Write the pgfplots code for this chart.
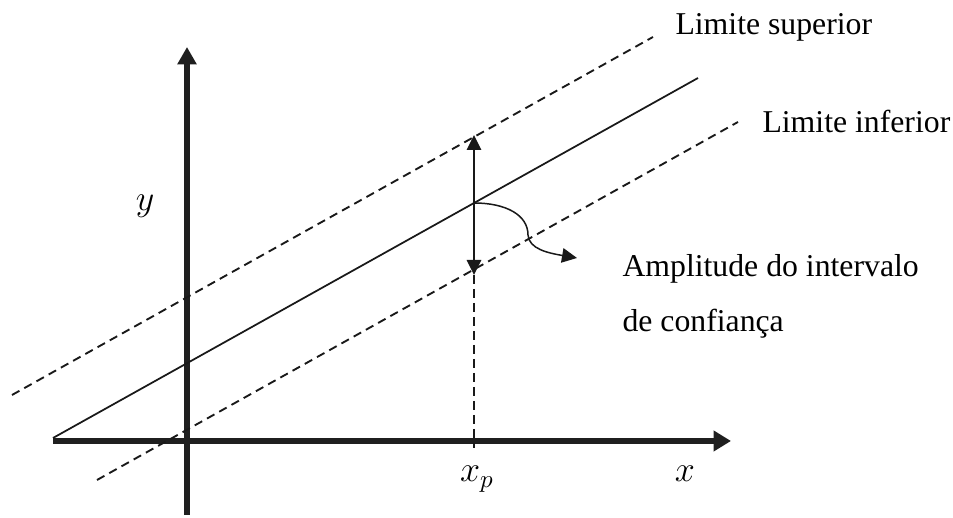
\documentclass[border=0pt]{standalone}
\usepackage{pgfplots}
\pgfplotsset{compat=1.18}
\usepackage{fontspec}
\setmainfont{Liberation Serif}
\usetikzlibrary{arrows.meta}
\begin{document}
\begin{tikzpicture}
\begin{axis}[
  scale only axis, width=381.2pt, height=206pt,
  xmin=0, xmax=953, ymin=0, ymax=515,
  hide axis, clip=false,
]
\addplot[draw=none, forget plot] coordinates {(0,0) (953,515)};
% axes
\addplot[line width=2.1pt, color=black!88, -{Triangle[length=7pt,width=8pt]}] coordinates {(53,74) (731,74)};
\addplot[line width=2.1pt, color=black!88, -{Triangle[length=7pt,width=7.4pt]}] coordinates {(187,0) (187,468)};
% regression line
\addplot[line width=0.7pt, black!90] coordinates {(53,77) (698,437)};
% confidence limits
\addplot[line width=0.75pt, black!90, dash pattern=on 3.4pt off 2.2pt] coordinates {(12,120) (653,478)};
\addplot[line width=0.75pt, black!90, dash pattern=on 3.4pt off 2.2pt] coordinates {(97,35) (738,393)};
% vertical amplitude arrow
\addplot[line width=0.6pt, black!90, {Triangle[length=6pt,width=5.8pt]}-{Triangle[length=6pt,width=5.8pt]}] coordinates {(474,240) (474,380)};
\addplot[line width=0.7pt, black!90, dash pattern=on 3.5pt off 2.1pt] coordinates {(474,240) (474,67)};
% curved arrow
\draw[line width=0.6pt, black!90, -{Triangle[length=6pt,width=5.8pt]}]
  (axis cs:474,312) .. controls (axis cs:506,312) and (axis cs:528,300) .. (axis cs:528,280)
  .. controls (axis cs:529,266) and (axis cs:548,262) .. (axis cs:577,257);
% labels
\node[anchor=base west, inner sep=0pt, font=\fontsize{12.7}{15}\selectfont] at (axis cs:675,480) {Limite superior};
\node[anchor=base west, inner sep=0pt, font=\fontsize{12.7}{15}\selectfont] at (axis cs:762,382) {Limite inferior};
\node[anchor=base west, inner sep=0pt, font=\fontsize{12.7}{15}\selectfont] at (axis cs:622,238) {Amplitude do intervalo};
\node[anchor=base west, inner sep=0pt, font=\fontsize{12.7}{15}\selectfont] at (axis cs:622,183) {de confiança};
\node[anchor=base, inner sep=0pt, font=\fontsize{14}{16}\selectfont] at (axis cs:145,304) {$y$};
\node[anchor=base, inner sep=0pt, font=\fontsize{14}{16}\selectfont] at (axis cs:685,33) {$x$};
\node[anchor=base, inner sep=0pt, font=\fontsize{14}{16}\selectfont] at (axis cs:477,33) {$x_p$};
\end{axis}
\end{tikzpicture}
\end{document}
